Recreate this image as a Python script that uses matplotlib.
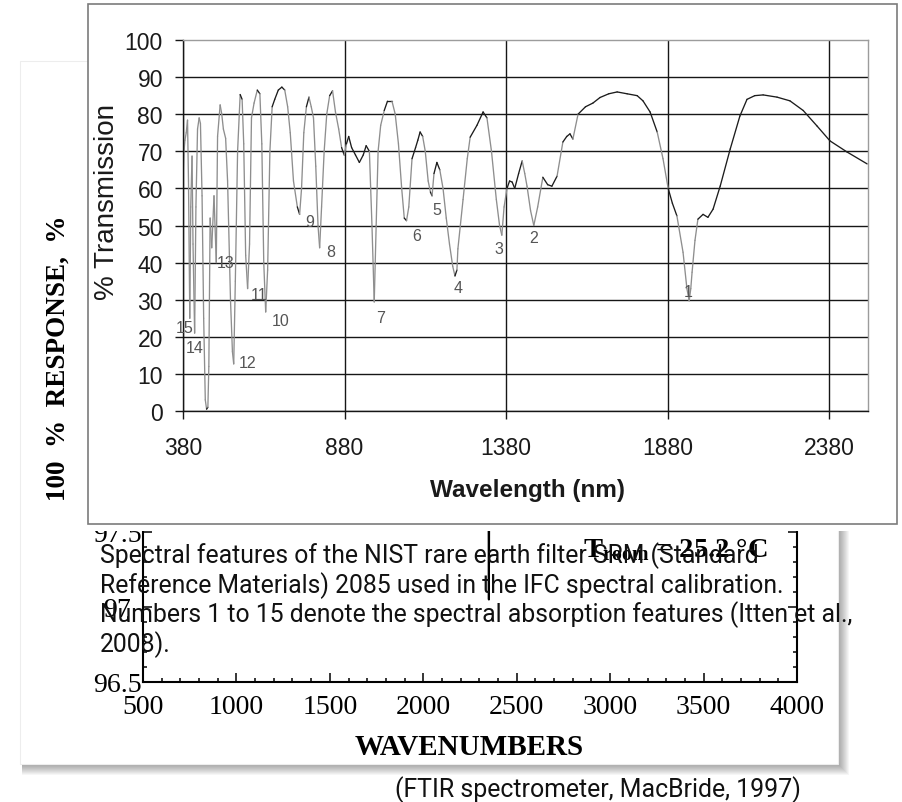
import numpy as np
import matplotlib
matplotlib.use('Agg')
from matplotlib import pyplot as plt
from matplotlib.collections import LineCollection
from matplotlib.patches import Rectangle
from matplotlib.ticker import MultipleLocator, FuncFormatter

W, H = 902, 803

# NIST SRM 2065 rare earth filter transmission (nm, %)
wavelength = [380, 383, 386, 390, 394, 397, 401, 404, 408, 411, 416, 420, 425, 430,
              434, 439, 444, 449, 453, 457, 460, 464, 469, 476, 483, 487, 495, 500,
              505, 512, 518, 527, 533, 537, 542, 549, 557, 563, 568, 574, 580, 586,
              592, 600, 610, 618, 624, 630, 636, 642, 649, 656, 664, 675, 686, 695,
              704, 712, 722, 734, 741, 747, 754, 762, 770, 777, 784, 791, 798, 803,
              809, 817, 825, 834, 843, 852, 862, 871, 879, 886, 893, 902, 914, 926,
              938, 947, 957, 965, 972, 978, 984, 992, 1003, 1013, 1027, 1037, 1047,
              1057, 1065, 1072, 1079, 1089, 1100, 1107, 1114, 1122, 1130, 1139, 1146,
              1151, 1157, 1166, 1175, 1185, 1195, 1205, 1215, 1222, 1228, 1231, 1247,
              1260, 1269, 1290, 1309, 1321, 1335, 1350, 1360, 1367, 1374, 1383, 1391,
              1399, 1407, 1419, 1430, 1438, 1445, 1456, 1466, 1478, 1494, 1509, 1522,
              1538, 1556, 1568, 1578, 1587, 1603, 1626, 1649, 1671, 1698, 1724, 1755,
              1786, 1804, 1826, 1848, 1866, 1882, 1895, 1909, 1928, 1940, 1947, 1952,
              1956, 1965, 1974, 1990, 2005, 2021, 2043, 2074, 2104, 2126, 2150, 2176,
              2219, 2259, 2300, 2343, 2383, 2436, 2498]
transmission = [62.5, 70, 73, 75, 78.4, 62, 25, 55, 68.7, 45, 21, 55, 76, 79,
                77.5, 58, 25, 3, 0.5, 1, 12, 52, 44, 58, 40, 74, 82.5, 80,
                76, 73.5, 62, 30, 16, 12.7, 35, 70, 85.3, 84, 72, 42, 33, 45,
                79, 83, 86.5, 85.5, 72, 40, 26.7, 38, 70, 82, 84, 86.5, 87.3, 86.5,
                82, 75, 62, 55, 53, 60, 75, 82, 84.6, 82, 79, 66, 50, 44,
                55, 70, 80, 85, 86.3, 80.6, 76, 71, 69, 72, 74, 71, 69, 67,
                69, 71.5, 70, 50, 29.4, 50, 70, 77, 81, 83.5, 83.5, 80, 72,
                60, 52, 51.3, 55, 68, 71, 73, 75.2, 74, 70, 62, 59,
                58, 64, 67, 65, 60, 52, 45, 39, 36.4, 38, 43.7, 57,
                68, 73.8, 77, 80.6, 79, 70, 57, 50, 47.4, 55, 60, 62,
                61.7, 60, 64, 67.4, 64, 60.6, 54, 50, 55, 63, 61, 60.6,
                63.3, 72.5, 74, 74.7, 73.3, 80, 82, 83, 84.5, 85.5, 86, 85.5,
                85, 83.6, 80.6, 75.2, 68, 60, 56, 52.6, 42.8, 33, 29.7, 33,
                37.4, 46, 51.7, 53, 52.2, 54.4, 60.6, 70.6, 79.5, 84, 85, 85.2,
                84.6, 83.6, 81, 76.8, 72.8, 69.8, 66.6]

# absorption feature numbers and the spot each number is written at
feature_ids = ['1', '2', '3', '4', '5', '6', '7', '8', '9', '10', '11', '12', '13', '14', '15']
feature_nm = [1943, 1467, 1358, 1231, 1166, 1104, 993, 838, 773, 683, 615, 581, 513, 417, 386]
feature_pct = [32.1, 46.9, 43.7, 33.2, 54.2, 47.4, 25.3, 42.9, 51.2, 24.5, 31.3, 13.2, 39.9, 17.0, 22.4]

nm_ticks = [380, 880, 1380, 1880, 2380]
pct_ticks = [0, 10, 20, 30, 40, 50, 60, 70, 80, 90, 100]

# FTIR background trace (wavenumbers, % response)
wavenumber = [500, 2340, 2349, 2351, 2353, 2362, 4000]
response = [98.2, 98.2, 97.9, 97.05, 97.9, 98.2, 98.2]
wn_ticks = [500, 1000, 1500, 2000, 2500, 3000, 3500, 4000]
resp_ticks = [96.5, 97.0, 97.5, 98.0, 98.5, 99.0]

caption = ['Spectral features of the NIST rare earth filter SRM (Standard',
           'Reference Materials) 2085 used in the IFC spectral calibration.',
           'Numbers 1 to 15 denote the spectral absorption features (Itten et al.,',
           '2008).']
credit = '(FTIR spectrometer, MacBride, 1997)'

plt.rcParams['mathtext.fontset'] = 'custom'
plt.rcParams['mathtext.rm'] = 'Liberation Serif'
plt.rcParams['mathtext.bf'] = 'Liberation Serif:bold'

SERIF = 'Liberation Serif'
SANS = 'Liberation Sans'
CAP = 'Roboto'


def box(x0, y0, x1, y1):
    """pixel box measured from the top-left corner -> figure fraction rect"""
    return [x0 / W, 1 - y1 / H, (x1 - x0) / W, (y1 - y0) / H]


fig = plt.figure(figsize=(W / 100, H / 100), dpi=100)

# --- paper sheet of the FTIR plot, with a soft drop shadow
page = fig.add_axes([0, 0, 1, 1], zorder=0)
page.set_xlim(0, W)
page.set_ylim(H, 0)
page.axis('off')
for k in range(1, 12):
    page.add_patch(Rectangle((22, 64), 816 + k, 701 + k, fc='black', alpha=0.035, lw=0))
page.add_patch(Rectangle((20, 62), 818, 703, fc='white', ec='#ededed', lw=0.8))

# --- FTIR response chart (mostly hidden under the transmission panel)
bg = fig.add_axes(box(143, 233, 797, 683), zorder=1)
bg.plot(wavenumber, response, color='black', lw=1.5)
bg.set_xlim(500, 4000)
bg.set_ylim(96.5, 99.5)
bg.set_xticks(wn_ticks)
bg.set_yticks(resp_ticks)
bg.xaxis.set_minor_locator(MultipleLocator(100))
bg.yaxis.set_minor_locator(MultipleLocator(0.1))
bg.yaxis.set_major_formatter(FuncFormatter(lambda v, p: '%g' % v))
bg.tick_params(which='both', direction='in', top=True, right=True, width=1.1, color='black')
bg.tick_params(which='major', length=6.5)
bg.tick_params(which='minor', length=3)
bg.tick_params(axis='x', pad=8.5, labelsize=20, labelfontfamily=SERIF)
bg.tick_params(axis='y', pad=18.5, labelsize=20, labelfontfamily=SERIF)
for lbl in bg.get_yticklabels():
    lbl.set_ha('center')
for s in bg.spines.values():
    s.set_linewidth(1.5)
bg.set_xlabel('WAVENUMBERS', family=SERIF, weight='bold', fontsize=21)
bg.xaxis.set_label_coords(0.498, (683 - 748) / 450)
bg.xaxis.label.set_va('center')
bg.set_ylabel('100  %  RESPONSE,  %', family=SERIF, weight='bold', fontsize=19.5)
bg.yaxis.set_label_coords((58 - 143) / 654, (683 - 358) / 450)
bg.yaxis.label.set_va('center')
bg.text((583 - 143) / 654, (683 - 557) / 450, r'$\mathbf{T_{room}}$ = 25.2 °C',
        transform=bg.transAxes, family=SERIF, weight='bold', fontsize=20.5,
        ha='left', va='baseline')

# --- white panel holding the transmission plot
panel = fig.add_axes(box(88, 5, 897, 532), zorder=2)
panel.set_xlim(88, 897)
panel.set_ylim(532, 5)
panel.axis('off')
panel.add_patch(Rectangle((88, 5), 809, 527, fc='white', lw=0, clip_on=False))
panel.add_patch(Rectangle((88, 5), 809, 520, fill=False, ec='#7c7c7c', lw=1.2, clip_on=False))

# --- transmission spectrum
ax = fig.add_axes(box(183, 41, 867.8, 412), zorder=3)
ax.set_xlim(380, 2500)
ax.set_ylim(0, 100)
ax.set_xticks(nm_ticks)
ax.set_yticks(pct_ticks)
ax.grid(True, color='#161616', lw=1.0)
ax.get_ygridlines()[-1].set_visible(False)
ax.tick_params(direction='out', length=5.8, width=1.0, color='#161616',
               labelsize=16.5, labelcolor='#1a1a1a', labelfontfamily=SANS)
ax.tick_params(axis='x', pad=12.5)
ax.tick_params(axis='y', pad=8.6)
for side in ('left', 'bottom'):
    ax.spines[side].set_color('#161616')
    ax.spines[side].set_linewidth(1.0)
for side in ('top', 'right'):
    ax.spines[side].set_color('#9c9c9c')
    ax.spines[side].set_linewidth(1.0)

# thin trace: steep parts come out pale grey, flat parts near black
x = np.asarray(wavelength, dtype=float)
y = np.asarray(transmission, dtype=float)
pts = np.column_stack([x, y])
segs = np.stack([pts[:-1], pts[1:]], axis=1)
px_per_nm = 684.8 / 2120
px_per_pct = 371 / 100
steep = np.abs(np.diff(y) * px_per_pct) > 4.0 * np.abs(np.diff(x) * px_per_nm)
colors = np.where(steep, '#8e8e8e', '#1c1c1c')
ax.add_collection(LineCollection(segs, colors=colors, linewidths=0.95, capstyle='round'))

for fid, fx, fy in zip(feature_ids, feature_nm, feature_pct):
    ax.text(fx, fy, fid, ha='center', va='center', fontsize=11.5, color='#555555',
            family=SANS)

ax.set_ylabel('% Transmission', family=SANS, fontsize=20, color='#1a1a1a')
ax.yaxis.set_label_coords((107 - 183) / 684.8, (412 - 202) / 371)
ax.yaxis.label.set_va('center')
ax.set_xlabel('Wavelength (nm)', family=SANS, weight='bold', fontsize=17.5, color='#1a1a1a')
ax.xaxis.set_label_coords((528 - 183) / 684.8, (412 - 490) / 371)
ax.xaxis.label.set_va('center')

# --- caption text laid over everything
top = fig.add_axes([0, 0, 1, 1], zorder=5)
top.set_xlim(0, W)
top.set_ylim(H, 0)
top.axis('off')
for i, line in enumerate(caption):
    top.text(100, 563 + 29.7 * i, line, family=CAP, fontsize=17.8, color='#111111',
             ha='left', va='baseline')
top.text(395, 797, credit, family=CAP, fontsize=17.9, color='#111111',
         ha='left', va='baseline')

fig.savefig('out.png', dpi=100)
